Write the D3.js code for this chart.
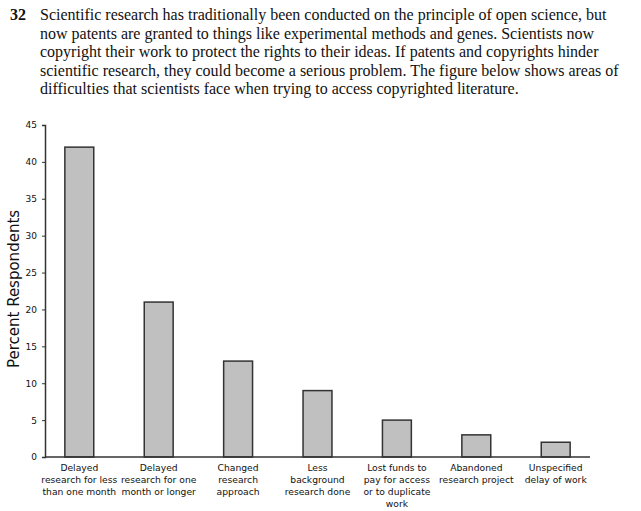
<!DOCTYPE html>
<html>
<head>
<meta charset="utf-8">
<script src="https://cdn.jsdelivr.net/npm/d3@7"></script>
<style>
  body { margin: 0; background: #fff; }
  .intro { font-family: "Liberation Serif", "Times New Roman", serif; font-size: 16px; fill: #111; }
  .cat { font-family: "DejaVu Sans", Verdana, sans-serif; font-size: 9.2px; fill: #111; }
  .y-axis text { font-family: "DejaVu Sans", Verdana, sans-serif; font-size: 9px; fill: #111; }
</style>
</head>
<body>
<div id="chart"></div>
<script>
var introLines = [
    "Scientific research has traditionally been conducted on the principle of open science, but",
    "now patents are granted to things like experimental methods and genes. Scientists now",
    "copyright their work to protect the rights to their ideas. If patents and copyrights hinder",
    "scientific research, they could become a serious problem. The figure below shows areas of",
    "difficulties that scientists face when trying to access copyrighted literature."
];

var categories = [
    ["Delayed", "research for less", "than one month"],
    ["Delayed", "research for one", "month or longer"],
    ["Changed", "research", "approach"],
    ["Less", "background", "research done"],
    ["Lost funds to", "pay for access", "or to duplicate", "work"],
    ["Abandoned", "research project"],
    ["Unspecified", "delay of work"]
];

var values = [42, 21, 13, 9, 5, 3, 2];

var yTicks = [0, 5, 10, 15, 20, 25, 30, 35, 40, 45];

var W = 641, H = 511;
var margin = { top: 125, right: 51, bottom: 54, left: 45 };
var width = W - margin.left - margin.right;
var height = H - margin.top - margin.bottom;

var svg = d3.select("#chart").append("svg")
    .attr("width", W)
    .attr("height", H);

// question text
svg.append("text")
    .attr("class", "intro")
    .attr("x", 10)
    .attr("y", 20)
    .style("font-weight", "bold")
    .text("32");

svg.selectAll(".intro-line")
    .data(introLines).enter()
    .append("text")
    .attr("class", "intro intro-line")
    .attr("x", 40)
    .attr("y", function(d, i) { return 20 + i * 18.5; })
    .text(function(d) { return d; });

var g = svg.append("g")
    .attr("transform", "translate(" + margin.left + "," + margin.top + ")");

var x = d3.scaleBand()
    .domain(d3.range(values.length))
    .range([0, width])
    .paddingInner(0.636)
    .paddingOuter(0.25);

var y = d3.scaleLinear()
    .domain([0, 45])
    .range([height, 0]);

g.selectAll(".bar")
    .data(values).enter()
    .append("rect")
    .attr("class", "bar")
    .attr("x", function(d, i) { return x(i); })
    .attr("y", function(d) { return y(d); })
    .attr("width", x.bandwidth())
    .attr("height", function(d) { return height - y(d); })
    .style("fill", "#c0c0c0")
    .style("stroke", "#333")
    .style("stroke-width", 1.5);

var yAxis = d3.axisLeft(y)
    .tickValues(yTicks)
    .tickSize(3)
    .tickPadding(5);

var yg = g.append("g")
    .attr("class", "y-axis")
    .call(yAxis);
yg.select(".domain").attr("stroke", "#333").attr("stroke-width", 1.5);
yg.selectAll(".tick line").attr("stroke", "#333");

// x baseline
g.append("line")
    .attr("x1", 0)
    .attr("x2", width)
    .attr("y1", height)
    .attr("y2", height)
    .attr("stroke", "#333")
    .attr("stroke-width", 1.5);

// category labels
var labels = g.selectAll(".cat")
    .data(categories).enter()
    .append("text")
    .attr("class", "cat")
    .attr("text-anchor", "middle")
    .attr("transform", function(d, i) {
        return "translate(" + (x(i) + x.bandwidth() / 2) + "," + (height + 14) + ")";
    });

labels.selectAll("tspan")
    .data(function(d) { return d; }).enter()
    .append("tspan")
    .attr("x", 0)
    .attr("y", function(d, i) { return i * 12; })
    .text(function(d) { return d; });

svg.append("text")
    .attr("text-anchor", "middle")
    .attr("transform", "translate(19," + (margin.top + height / 2 - 2) + ")rotate(-90)")
    .style("font-family", "'DejaVu Sans', Verdana, sans-serif")
    .style("font-size", "15px")
    .style("fill", "#111")
    .text("Percent Respondents");
</script>
</body>
</html>
